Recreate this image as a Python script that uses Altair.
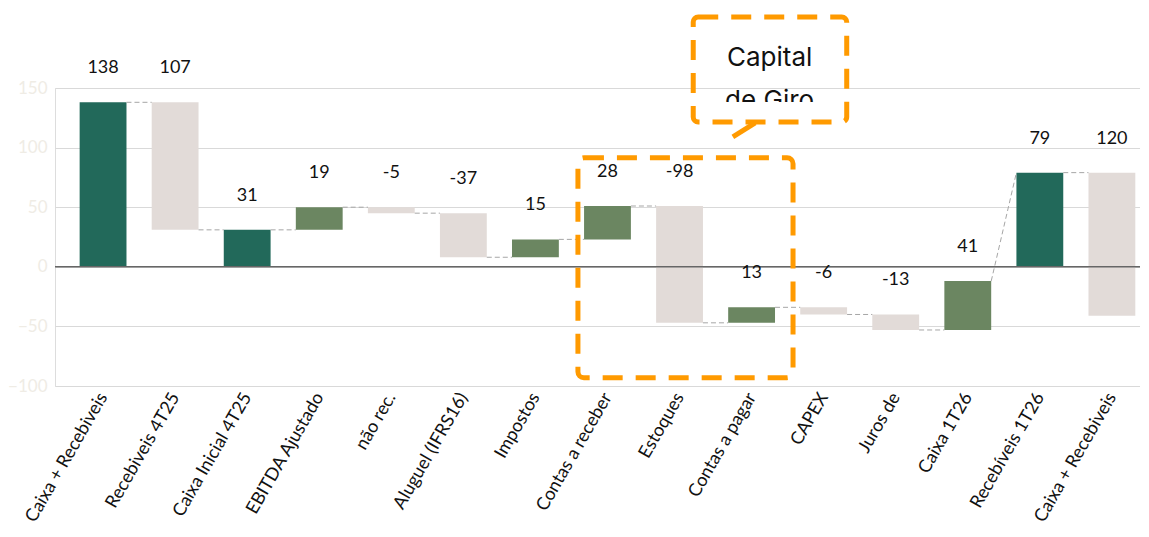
import altair as alt
import pandas as pd

categories = ["Caixa + Recebiveis", "Recebiveis 4T25", "Caixa Inicial 4T25", "EBITDA Ajustado",
              "não rec.", "Aluguel (IFRS16)", "Impostos", "Contas a receber", "Estoques",
              "Contas a pagar", "CAPEX", "Juros de", "Caixa 1T26", "Recebíveis 1T26",
              "Caixa + Recebiveis"]
values = [138, -107, 31, 19, -5, -37, 15, 28, -98, 13, -6, -13, 41, 79, -120]
kinds = ["total", "delta", "total", "delta", "delta", "delta", "delta", "delta", "delta",
         "delta", "delta", "delta", "delta", "total", "delta"]
labels = ["138", "107", "31", "19", "-5", "-37", "15", "28", "-98", "13", "-6", "-13",
          "41", "79", "120"]
y_ticks = [-100, -50, 0, 50, 100, 150]

DARK, OLIVE, LIGHT = "#22695a", "#6b8661", "#e2dbd8"
ORANGE = "#ff9a00"
HALF = 0.325

rows = []
level = 0
for i, (c, v, k, lab) in enumerate(zip(categories, values, kinds, labels)):
    if k == "total":
        s, e = 0, v
        col = DARK
    else:
        s, e = level, level + v
        col = OLIVE if v > 0 else LIGHT
    level = e
    rows.append(dict(i=i, x0=i - HALF, x1=i + HALF, start=s, end=e, top=max(s, e),
                     color=col, label=lab, cat=c))
df = pd.DataFrame(rows)

conn = []
for a, b in zip(rows[:-1], rows[1:]):
    y2 = b["end"] if kinds[b["i"]] == "total" else b["start"]
    conn.append(dict(xa=a["x1"], xb=b["x0"], ya=a["end"], yb=y2))
cdf = pd.DataFrame(conn)

xdom = [-0.667, 14.39]
ydom = [-100, 150]
label_js = "[" + ",".join("'" + c + "'" for c in categories) + "]"

xscale = alt.Scale(domain=xdom, nice=False, zero=False)
yscale = alt.Scale(domain=ydom, nice=False)

base_axis_x = alt.Axis(values=list(range(len(categories))), labelExpr=label_js + "[datum.value]",
                       labelAngle=-60, labelFont="Lato", labelFontSize=18, labelColor="#111111",
                       ticks=False, domain=False, grid=False, title=None, labelPadding=8,
                       labelOverlap=False, labelBound=False, labelFlush=False)
base_axis_y = alt.Axis(values=y_ticks, labelFont="Lato", labelFontSize=17, labelColor="#efece5",
                       ticks=False, domain=False, grid=True, gridColor="#d9d9d9", title=None,
                       labelPadding=8)

bars = alt.Chart(df).mark_bar().encode(
    x=alt.X("x0:Q", scale=xscale, axis=base_axis_x),
    x2="x1:Q",
    y=alt.Y("start:Q", scale=yscale, axis=base_axis_y),
    y2="end:Q",
    color=alt.Color("color:N", scale=None),
)

zero = alt.Chart(pd.DataFrame({"y": [0]})).mark_rule(color="#666666", strokeWidth=1.5).encode(
    y=alt.Y("y:Q", scale=yscale))

connectors = alt.Chart(cdf).mark_rule(color="#a6a6a6", strokeWidth=1, strokeDash=[5, 3]).encode(
    x=alt.X("xa:Q", scale=xscale), x2="xb:Q",
    y=alt.Y("ya:Q", scale=yscale), y2="yb:Q")

texts = alt.Chart(df).mark_text(font="Lato", fontSize=18, color="#111111", dy=-34).encode(
    x=alt.X("i:Q", scale=xscale), y=alt.Y("top:Q", scale=yscale), text="label:N")

# Annotation: working-capital highlight box and callout
box = alt.Chart(pd.DataFrame({"a": [6.59], "b": [9.575], "c": [91.4], "d": [-93.0]})).mark_rect(
    fillOpacity=0, stroke=ORANGE, strokeWidth=5, strokeDash=[20, 13], cornerRadius=6).encode(
    x=alt.X("a:Q", scale=xscale), x2="b:Q", y=alt.Y("c:Q", scale=yscale), y2="d:Q")

callout_text = alt.Chart(pd.DataFrame({"x": [9.25, 9.25], "y": [175.5, 139.0],
                                       "t": ["Capital", "de Giro"]})).mark_text(
    font="Inter", fontSize=26, color="#111111").encode(
    x=alt.X("x:Q", scale=xscale), y=alt.Y("y:Q", scale=yscale), text="t:N")

mask = alt.Chart(pd.DataFrame({"a": [8.35], "b": [10.15], "c": [138.3], "d": [124.0]})).mark_rect(
    color="white").encode(
    x=alt.X("a:Q", scale=xscale), x2="b:Q", y=alt.Y("c:Q", scale=yscale), y2="d:Q")

callout = alt.Chart(pd.DataFrame({"a": [8.19], "b": [10.32], "c": [209.6], "d": [121.5]})).mark_rect(
    fillOpacity=0, stroke=ORANGE, strokeWidth=5, strokeDash=[20, 13], cornerRadius=5).encode(
    x=alt.X("a:Q", scale=xscale), x2="b:Q", y=alt.Y("c:Q", scale=yscale), y2="d:Q")

tail = alt.Chart(pd.DataFrame({"a": [8.74], "b": [9.05], "c": [109.0], "d": [120.7]})).mark_rule(
    stroke=ORANGE, strokeWidth=5).encode(
    x=alt.X("a:Q", scale=xscale), x2="b:Q", y=alt.Y("c:Q", scale=yscale), y2="d:Q")

chart = alt.layer(bars, zero, connectors, texts, box, callout_text, mask, callout, tail).properties(
    width=1085, height=298,
    padding={"left": 47, "top": 80, "right": 0, "bottom": 143},
    autosize=alt.AutoSizeParams(type="none"),
).configure_view(strokeWidth=0).configure(background="white")

chart.save("out.html", embed_options={"renderer": "svg", "actions": False})
